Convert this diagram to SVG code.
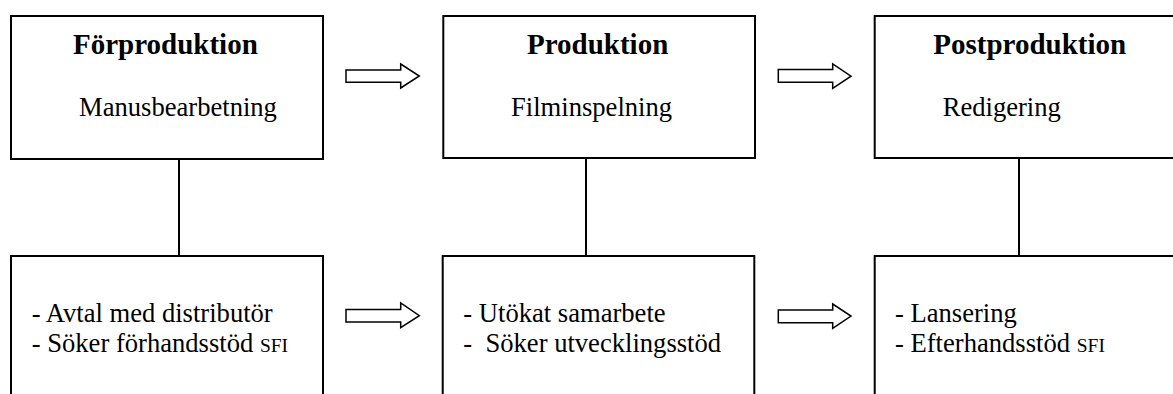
<svg xmlns="http://www.w3.org/2000/svg" width="1173" height="394" viewBox="0 0 1173 394">
<style>
.box{fill:#fff;stroke:#000;stroke-width:2}
.arr{fill:#fff;stroke:#000;stroke-width:1.5;stroke-linejoin:miter}
.ln{stroke:#000;stroke-width:2;fill:none}
text{font-family:"Liberation Serif","Times New Roman",serif;fill:#000}
.t{font-size:29px;font-weight:bold}
.s{font-size:26.6px}
.sm{font-size:19.5px}
</style>
<rect width="1173" height="394" fill="#fff"/>
<g id="connectors">
<line class="ln" x1="179" y1="159" x2="179" y2="256"/>
<line class="ln" x1="586" y1="158" x2="586" y2="256"/>
<line class="ln" x1="1019" y1="158" x2="1019" y2="256"/>
<path class="arr" d="M346,70 H400.7 V64 L419.3,76 L400.7,88 V82.3 H346 Z"/>
<path class="arr" d="M778.3,69.5 H832.7 V64 L851,76.2 L832.7,88.3 V82.3 H778.3 Z"/>
<path class="arr" d="M346,309.5 H400.7 V303 L419.3,315.7 L400.7,327.7 V322 H346 Z"/>
<path class="arr" d="M778.3,310 H832.7 V304 L851,316 L832.7,328.3 V322.7 H778.3 Z"/>
</g>
<g id="forproduktion">
<rect class="box" x="11" y="16" width="312" height="143"/>
<text class="t" x="73" y="54">Förproduktion</text>
<text class="s" x="79" y="116">Manusbearbetning</text>
</g>
<g id="produktion">
<rect class="box" x="443.3" y="16" width="311.7" height="142"/>
<text class="t" x="527" y="54">Produktion</text>
<text class="s" x="511" y="116">Filminspelning</text>
</g>
<g id="postproduktion">
<rect class="box" x="874.7" y="16" width="312" height="142"/>
<text class="t" x="933.3" y="54">Postproduktion</text>
<text class="s" x="942.7" y="116">Redigering</text>
</g>
<g id="forproduktion-detaljer">
<rect class="box" x="11" y="256" width="312" height="150"/>
<text class="s" x="31.7" y="322">- Avtal med distributör</text>
<text class="s" x="31.7" y="352">- Söker förhandsstöd <tspan class="sm">SFI</tspan></text>
</g>
<g id="produktion-detaljer">
<rect class="box" x="442.7" y="256" width="311.6" height="150"/>
<text class="s" x="463.3" y="322">- Utökat samarbete</text>
<text class="s" x="463.3" y="352" xml:space="preserve">-  Söker utvecklingsstöd</text>
</g>
<g id="postproduktion-detaljer">
<rect class="box" x="874.7" y="256" width="312" height="150"/>
<text class="s" x="895" y="322">- Lansering</text>
<text class="s" x="895" y="352">- Efterhandsstöd <tspan class="sm">SFI</tspan></text>
</g>
</svg>
